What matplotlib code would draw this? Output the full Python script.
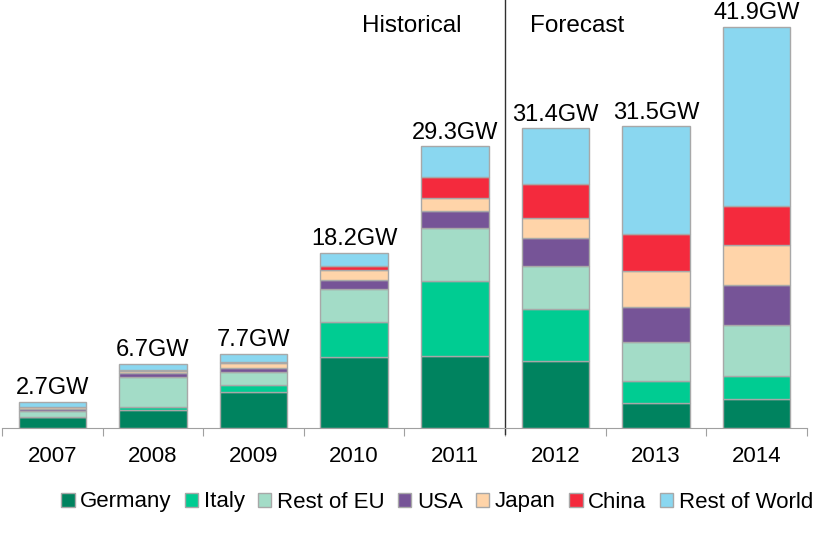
import matplotlib.pyplot as plt
import numpy as np

# Annual PV installations (GW)
years = ["2007", "2008", "2009", "2010", "2011", "2012", "2013", "2014"]
totals = ["2.7GW", "6.7GW", "7.7GW", "18.2GW", "29.3GW", "31.4GW", "31.5GW", "41.9GW"]
regions = ["Germany", "Italy", "Rest of EU", "USA", "Japan", "China", "Rest of World"]

germany = [1.1, 1.9, 3.8, 7.4, 7.5, 7.0, 2.6, 3.0]
italy = [0.07, 0.34, 0.73, 3.7, 7.9, 5.4, 2.3, 2.4]
rest_eu = [0.6, 3.1, 1.36, 3.45, 5.5, 4.5, 4.1, 5.4]
usa = [0.2, 0.4, 0.42, 0.94, 1.8, 2.9, 3.6, 4.1]
japan = [0.21, 0.23, 0.46, 1.04, 1.3, 2.1, 3.8, 4.2]
china = [0.02, 0.05, 0.17, 0.35, 2.2, 3.6, 3.9, 4.1]
rest_world = [0.5, 0.65, 0.8, 1.4, 3.2, 5.8, 11.2, 18.7]

series = [germany, italy, rest_eu, usa, japan, china, rest_world]
colors = ["#00835F", "#00CC92", "#A3DCC7", "#765497", "#FFD4A9", "#F42A3D", "#8AD7F0"]

plt.rcParams['font.family'] = ['Liberation Sans', 'DejaVu Sans']

fig = plt.figure(figsize=(8.31, 5.42), dpi=100)
ax = fig.add_axes([2 / 831, (542 - 428) / 542, 805 / 831, 428 / 542])

x = np.arange(len(years))
bottom = np.zeros(len(years))
for name, vals, c in zip(regions, series, colors):
    ax.bar(x, vals, 0.67, bottom=bottom, color=c, edgecolor="#A8A8A8",
           linewidth=1, label=name)
    bottom += np.array(vals)

for xi, top, lab in zip(x, bottom, totals):
    ax.annotate(lab, (xi, top), xytext=(0, 2), textcoords="offset points",
                ha="center", va="bottom", fontsize=17)

ax.set_xlim(-0.5, len(years) - 0.5)
ax.set_ylim(0, 44.7)

# divider between historical and forecast
ax.axvline(4.5, ymin=-0.015, ymax=1, color="#303030", linewidth=1, clip_on=False)
ax.text(3.57, 42.0, "Historical", ha="center", va="center", fontsize=17.5)
ax.text(5.22, 42.0, "Forecast", ha="center", va="center", fontsize=17.5)

for s in ["top", "right", "left"]:
    ax.spines[s].set_visible(False)
ax.spines["bottom"].set_color("#A0A0A0")
ax.set_yticks([])
ax.set_xticks(np.arange(-0.5, len(years)), labels=[])
ax.tick_params(axis="x", which="major", length=6, color="#A0A0A0")
ax.set_xticks(x, labels=years, minor=True)
ax.tick_params(axis="x", which="minor", length=0, labelsize=16, pad=13)

leg = fig.legend(loc="center", bbox_to_anchor=(437 / 831, 1 - 502 / 542), ncol=7,
                 frameon=False, handlelength=0.6, handleheight=0.6,
                 handletextpad=0.25, columnspacing=0.6,
                 prop={"family": ["Liberation Sans Narrow", "Liberation Sans"], "size": 16})

fig.savefig("out.png", dpi=100)
